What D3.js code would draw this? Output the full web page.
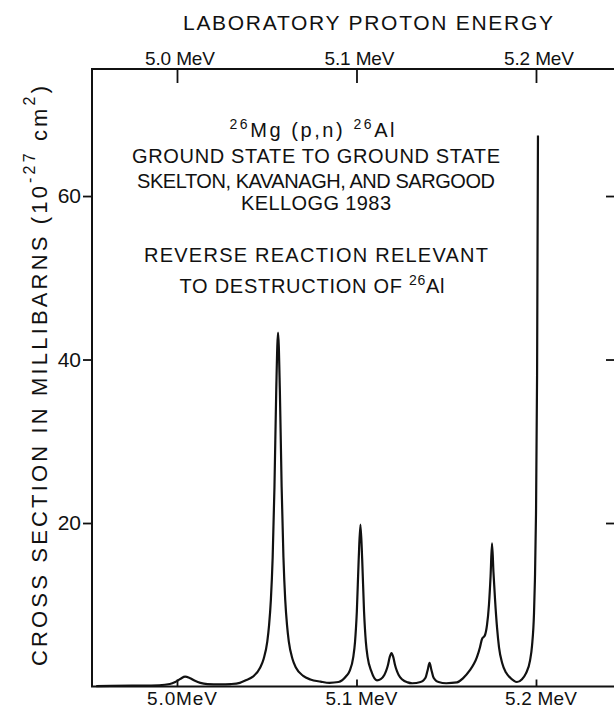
<!DOCTYPE html>
<html>
<head>
<meta charset="utf-8">
<script src="https://cdn.jsdelivr.net/npm/d3@7"></script>
<style>
  html, body { margin: 0; padding: 0; background: #fff; }
  svg { display: block; }
  text { font-family: "Liberation Sans", "DejaVu Sans", sans-serif; fill: #111; }
</style>
</head>
<body>
<svg id="chart" width="614" height="708"></svg>
<script>
// ---- data ----
const energyMeV = [4.955, 4.975, 4.990, 4.996, 4.999, 5.002, 5.0045, 5.007, 5.010, 5.013, 5.017, 5.024, 5.030, 5.035,
  5.0383, 5.0423, 5.0463, 5.0483, 5.0503, 5.0513, 5.0523, 5.0533, 5.0543, 5.0553, 5.0563, 5.0573, 5.0583, 5.0593, 5.0603, 5.0613, 5.0623, 5.0643, 5.0663, 5.0703, 5.0743,
  5.080, 5.085, 5.090,
  5.0942, 5.0962, 5.0982, 5.0992, 5.1002, 5.1012, 5.1022, 5.1032, 5.1042, 5.1052, 5.1062, 5.1082,
  5.1114, 5.1135, 5.1155, 5.1165, 5.1175, 5.1185, 5.1195, 5.1205, 5.1215, 5.1225, 5.1235, 5.1255, 5.1285, 5.1310,
  5.1357, 5.1377, 5.1387, 5.1397, 5.1407, 5.1417, 5.1427, 5.1437, 5.1457, 5.1500,
  5.1560, 5.1593, 5.1632, 5.1655, 5.1671, 5.1688, 5.1699, 5.1716, 5.1727, 5.1738, 5.1747, 5.1755, 5.1763, 5.1772, 5.1783, 5.1794, 5.1811, 5.1833, 5.1855, 5.1894, 5.1922, 5.1944, 5.1967, 5.1978, 5.1989, 5.1994, 5.2000, 5.2006, 5.2011];
const crossSectionMb = [0.05, 0.1, 0.15, 0.3, 0.55, 0.95, 1.2, 1.05, 0.7, 0.45, 0.3, 0.25, 0.3, 0.45,
  0.75, 1.2, 2.3, 3.4, 5.5, 7.5, 10.6, 15.8, 24.4, 36.3, 43.3, 36.3, 24.4, 15.8, 10.6, 7.5, 5.5, 3.4, 2.3, 1.3, 0.86,
  0.6, 0.45, 0.55,
  1.25, 1.9, 3.6, 5.5, 9.2, 15.4, 19.8, 15.4, 9.2, 5.5, 3.6, 1.9,
  0.75, 0.9, 1.4, 1.9, 2.6, 3.6, 4.1, 3.6, 2.6, 1.9, 1.4, 0.85, 0.5, 0.4,
  0.55, 0.85, 1.22, 2.06, 2.9, 2.06, 1.22, 0.85, 0.55, 0.4,
  0.5, 1.0, 2.0, 2.8, 3.6, 4.8, 5.8, 6.3, 7.5, 10.0, 13.5, 17.5, 14.0, 10.6, 7.2, 4.8, 2.9, 1.7, 1.1, 0.55, 0.9, 1.6, 3.2, 5, 9, 13, 21, 38, 67.4];
const xTicks = [5.0, 5.1, 5.2];
const topTickLabels = ["5.0 MeV", "5.1 MeV", "5.2 MeV"];
const bottomTickLabels = ["5.0MeV", "5.1 MeV", "5.2 MeV"];
const yTicks = [20, 40, 60];
const xTitle = "LABORATORY PROTON ENERGY";
const noteLines = ["GROUND STATE TO GROUND STATE", "SKELTON, KAVANAGH, AND SARGOOD", "KELLOGG 1983", "REVERSE REACTION RELEVANT"];

// ---- layout ----
const L = 92, R = 617, T = 69, B = 686.5;
const svg = d3.select("#chart");
svg.append("rect").attr("width", 614).attr("height", 708).attr("fill", "#fff");

const x = d3.scaleLinear().domain([4.95265, 5.24513]).range([L, R]);
const y = d3.scaleLinear().domain([0, 75.54]).range([B, T]);

// frame
svg.append("rect").attr("x", L).attr("y", T).attr("width", R - L).attr("height", B - T)
  .attr("fill", "none").attr("stroke", "#111").attr("stroke-width", 2);

function styleAxis(g) {
  g.select(".domain").remove();
  g.selectAll(".tick line").attr("stroke", "#111").attr("stroke-width", 1.8);
}
// top ticks (inward)
svg.append("g").attr("transform", `translate(0,${T})`)
  .call(d3.axisBottom(x).tickValues(xTicks).tickSize(14).tickFormat(""))
  .call(styleAxis);
// bottom ticks (inward)
svg.append("g").attr("transform", `translate(0,${B})`)
  .call(d3.axisTop(x).tickValues(xTicks).tickSize(7).tickFormat(""))
  .call(styleAxis);
// left ticks (outward) with labels
const gl = svg.append("g").attr("transform", `translate(${L},0)`)
  .call(d3.axisLeft(y).tickValues(yTicks).tickSize(9).tickPadding(2).tickFormat(d3.format("d")))
  .call(styleAxis);
gl.selectAll(".tick text").attr("font-size", 21).attr("fill", "#111")
  .attr("font-family", "Liberation Sans, sans-serif");
// right ticks (inward)
svg.append("g").attr("transform", `translate(${R},0)`)
  .call(d3.axisLeft(y).tickValues(yTicks).tickSize(11).tickFormat(""))
  .call(styleAxis);

// tick labels top & bottom
svg.append("g").selectAll("text").data(xTicks).join("text")
  .attr("x", d => x(d) + 3).attr("y", 65).attr("text-anchor", "middle")
  .attr("font-size", 19).attr("textLength", 70).attr("lengthAdjust", "spacing")
  .text((d, i) => topTickLabels[i]);
svg.append("g").selectAll("text").data(xTicks).join("text")
  .attr("x", d => x(d) + 5).attr("y", 705).attr("text-anchor", "middle")
  .attr("font-size", 19).attr("textLength", (d, i) => i === 0 ? 70 : 72).attr("lengthAdjust", "spacing")
  .text((d, i) => bottomTickLabels[i]);

// x title
svg.append("text").attr("x", 368).attr("y", 30).attr("text-anchor", "middle")
  .attr("font-size", 21).attr("textLength", 370).attr("lengthAdjust", "spacing").text(xTitle);

// y title
const yt = svg.append("text").attr("transform", "translate(47,376) rotate(-90)")
  .attr("text-anchor", "middle").attr("font-size", 22)
  .attr("textLength", 580).attr("lengthAdjust", "spacing");
yt.append("tspan").text("CROSS SECTION IN MILLIBARNS (10");
yt.append("tspan").attr("font-size", 16).attr("dy", -12).text("-27");
yt.append("tspan").attr("dy", 12).text(" cm");
yt.append("tspan").attr("font-size", 16).attr("dy", -12).text("2");
yt.append("tspan").attr("dy", 12).text(")");

// annotation block
const cx = 316;
const l1 = svg.append("text").attr("x", 312).attr("y", 137).attr("text-anchor", "middle").attr("font-size", 20)
  .attr("textLength", 165).attr("lengthAdjust", "spacing");
l1.append("tspan").attr("font-size", 14).attr("dy", -8).text("26");
l1.append("tspan").attr("dy", 8).text("Mg (p,n) ");
l1.append("tspan").attr("font-size", 14).attr("dy", -8).text("26");
l1.append("tspan").attr("dy", 8).text("Al");
const noteY = [163, 188, 210, 262];
const noteW = [368, 358, 150, 344];
noteLines.forEach((s, i) => {
  svg.append("text").attr("x", cx).attr("y", noteY[i]).attr("text-anchor", "middle")
    .attr("font-size", 20).attr("textLength", noteW[i]).attr("lengthAdjust", "spacing").text(s);
});
const l6 = svg.append("text").attr("x", 312).attr("y", 293).attr("text-anchor", "middle").attr("font-size", 20)
  .attr("textLength", 265).attr("lengthAdjust", "spacing");
l6.append("tspan").text("TO DESTRUCTION OF ");
l6.append("tspan").attr("font-size", 14).attr("dy", -8).text("26");
l6.append("tspan").attr("dy", 8).text("Al");

// curve
const pts = energyMeV.map((e, i) => [e, crossSectionMb[i]]);
const line = d3.line().x(d => x(d[0])).y(d => y(d[1])).curve(d3.curveMonotoneX);
svg.append("path").datum(pts).attr("d", line).attr("fill", "none")
  .attr("stroke", "#111").attr("stroke-width", 2.2).attr("stroke-linejoin", "round");
</script>
</body>
</html>
